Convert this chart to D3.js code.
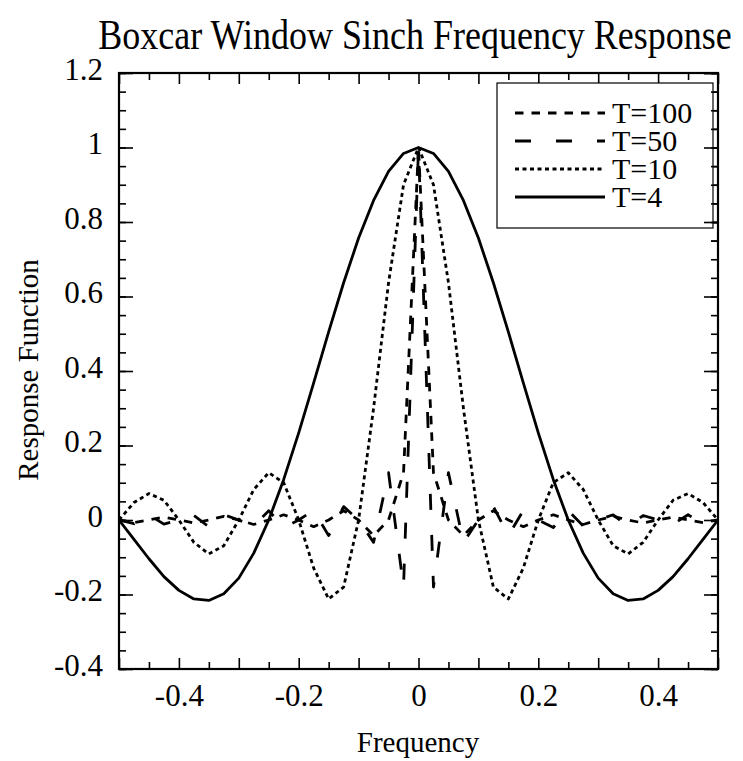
<!DOCTYPE html>
<html>
<head>
<meta charset="utf-8">
<script src="https://cdn.jsdelivr.net/npm/d3@7"></script>
<style>
  body { margin: 0; background: #fff; }
  svg text { font-family: "Liberation Serif", "Times New Roman", Times, serif; fill: #000; }
</style>
</head>
<body>
<svg id="chart" width="743" height="761"></svg>
<script>
// Frequency grid (cycles per sample)
const freq = [-0.5, -0.475, -0.45, -0.425, -0.4, -0.375, -0.35, -0.325, -0.3, -0.275,
  -0.25, -0.225, -0.2, -0.175, -0.15, -0.125, -0.1, -0.075, -0.05, -0.025,
  0, 0.025, 0.05, 0.075, 0.1, 0.125, 0.15, 0.175, 0.2, 0.225,
  0.25, 0.275, 0.3, 0.325, 0.35, 0.375, 0.4, 0.425, 0.45, 0.475, 0.5];

// Response of a boxcar window of length T
const resp100 = [0, -0.007, 0, 0.008, 0, -0.008, 0, 0.010, 0, -0.012,
  0, 0.014, 0, -0.018, 0, 0.025, 0, -0.042, 0, 0.127,
  1, 0.127, 0, -0.042, 0, 0.025, 0, -0.018, 0, 0.014,
  0, -0.012, 0, 0.010, 0, -0.008, 0, 0.008, 0, -0.007, 0];

const resp50 = [0, -0.010, 0.014, -0.011, 0, 0.012, -0.018, 0.014, 0, -0.016,
  0.025, -0.020, 0, 0.026, -0.042, 0.036, 0, -0.060, 0.127, -0.180,
  1, -0.180, 0.127, -0.060, 0, 0.036, -0.042, 0.026, 0, -0.020,
  0.025, -0.016, 0, 0.014, -0.018, 0.012, 0, -0.011, 0.014, -0.010, 0];

const resp10 = [0, 0.047, 0.071, 0.053, 0, -0.060, -0.091, -0.069, 0, 0.082,
  0.127, 0.100, 0, -0.129, -0.212, -0.180, 0, 0.300, 0.637, 0.900,
  1, 0.900, 0.637, 0.300, 0, -0.180, -0.212, -0.129, 0, 0.100,
  0.127, 0.082, 0, -0.069, -0.091, -0.060, 0, 0.053, 0.071, 0.047, 0];

const resp4 = [0, -0.052, -0.104, -0.152, -0.189, -0.212, -0.216, -0.198, -0.156, -0.089,
  0, 0.109, 0.234, 0.368, 0.505, 0.637, 0.757, 0.858, 0.936, 0.984,
  1, 0.984, 0.936, 0.858, 0.757, 0.637, 0.505, 0.368, 0.234, 0.109,
  0, -0.089, -0.156, -0.198, -0.216, -0.212, -0.189, -0.152, -0.104, -0.052, 0];

const seriesNames = ["T=100", "T=50", "T=10", "T=4"];
const seriesDash = ["8.5,8", "16,25", "4,3.5", null];

const xTickLabels = [-0.4, -0.2, 0, 0.2, 0.4];
const yTickLabels = [-0.4, -0.2, 0, 0.2, 0.4, 0.6, 0.8, 1, 1.2];

const series = [resp100, resp50, resp10, resp4];

const svg = d3.select("#chart");
const plot = { left: 119, right: 718, top: 73, bottom: 669 };

const x = d3.scaleLinear().domain([-0.5, 0.5]).range([plot.left, plot.right]);
const y = d3.scaleLinear().domain([-0.4, 1.2]).range([plot.bottom, plot.top]);

const fmt = d => String(+d.toFixed(1));

// minor and major tick values
const xMinor = d3.range(-9, 10, 2).map(i => +(i * 0.05).toFixed(2));
const xMajor = d3.range(-5, 6).map(i => +(i * 0.1).toFixed(1));
const yMinor = d3.range(-8, 25).map(i => +(i * 0.05).toFixed(2));

function styleAxis(g) {
  g.select(".domain").remove();
  g.selectAll(".tick line").attr("stroke", "#000").attr("stroke-width", 1.6);
}

// bottom axis labels
svg.append("g").attr("transform", `translate(0,${plot.bottom})`)
  .call(d3.axisBottom(x).tickValues(xTickLabels).tickFormat(fmt).tickSize(0).tickPadding(15))
  .call(styleAxis)
  .selectAll("text").attr("font-size", 31);

[[d3.axisBottom, plot.bottom], [d3.axisTop, plot.top]].forEach(([ax, pos]) => {
  svg.append("g").attr("transform", `translate(0,${pos})`)
    .call(ax(x).tickValues(xMajor).tickFormat("").tickSize(-11)).call(styleAxis);
  svg.append("g").attr("transform", `translate(0,${pos})`)
    .call(ax(x).tickValues(xMinor).tickFormat("").tickSize(-7)).call(styleAxis);
});

// left axis labels
svg.append("g").attr("transform", `translate(${plot.left},0)`)
  .call(d3.axisLeft(y).tickValues(yTickLabels).tickFormat(fmt).tickSize(0).tickPadding(16))
  .call(styleAxis)
  .selectAll("text").attr("font-size", 31).attr("dy", "0.2em");

[[d3.axisLeft, plot.left], [d3.axisRight, plot.right]].forEach(([ax, pos]) => {
  svg.append("g").attr("transform", `translate(${pos},0)`)
    .call(ax(y).tickValues(yTickLabels).tickFormat("").tickSize(-14)).call(styleAxis);
  svg.append("g").attr("transform", `translate(${pos},0)`)
    .call(ax(y).tickValues(yMinor).tickFormat("").tickSize(-7)).call(styleAxis);
});

// plot frame
svg.append("rect")
  .attr("x", plot.left).attr("y", plot.top)
  .attr("width", plot.right - plot.left).attr("height", plot.bottom - plot.top)
  .attr("fill", "none").attr("stroke", "#000").attr("stroke-width", 2.2);

// curves
const line = d3.line().x((d, i) => x(freq[i])).y(d => y(d));
const curves = svg.append("g");
series.forEach((vals, s) => {
  curves.append("path")
    .datum(vals)
    .attr("d", line)
    .attr("fill", "none")
    .attr("stroke", "#000")
    .attr("stroke-width", 2.8)
    .attr("stroke-linejoin", "round")
    .attr("stroke-dasharray", seriesDash[s]);
});

// legend
const lg = svg.append("g");
lg.append("rect")
  .attr("x", 497).attr("y", 83).attr("width", 216).attr("height", 145)
  .attr("fill", "#fff").attr("stroke", "#000").attr("stroke-width", 1.2);
seriesNames.forEach((name, i) => {
  const cy = 113 + i * 28;
  lg.append("line")
    .attr("x1", 515).attr("x2", 605).attr("y1", cy).attr("y2", cy)
    .attr("stroke", "#000").attr("stroke-width", 2.8)
    .attr("stroke-dasharray", seriesDash[i]);
  lg.append("text")
    .attr("x", 612).attr("y", cy).attr("dy", "0.34em")
    .attr("font-size", 30).text(name);
});

// right-side ticks drawn again on top of the legend box
svg.append("g").attr("transform", `translate(${plot.right},0)`)
  .call(d3.axisRight(y).tickValues(yTickLabels.filter(v => v >= 0.8)).tickFormat("").tickSize(-14)).call(styleAxis);
svg.append("g").attr("transform", `translate(${plot.right},0)`)
  .call(d3.axisRight(y).tickValues(yMinor.filter(v => v >= 0.75)).tickFormat("").tickSize(-7)).call(styleAxis);

// titles
svg.append("text")
  .attr("transform", "translate(415,49) scale(1,1.18)")
  .attr("text-anchor", "middle")
  .attr("font-size", 36).text("Boxcar Window Sinch Frequency Response");

svg.append("text")
  .attr("x", 418).attr("y", 752).attr("text-anchor", "middle")
  .attr("font-size", 29).text("Frequency");

svg.append("text")
  .attr("transform", "translate(38,370) rotate(-90)")
  .attr("text-anchor", "middle")
  .attr("font-size", 29).text("Response Function");
</script>
</body>
</html>
